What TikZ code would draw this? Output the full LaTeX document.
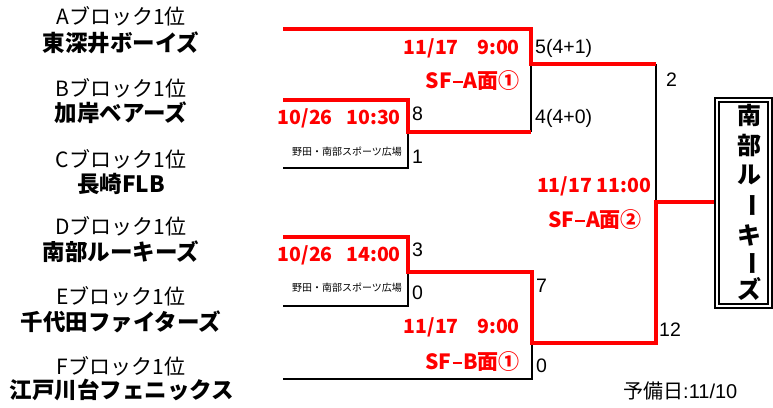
\documentclass[tikz,border=0pt]{standalone}
\usepackage{fontspec}
\setmainfont{Noto Sans CJK JP}
\newfontfamily\latinfont{Liberation Sans}
\newcommand{\sfdash}{\hspace{0.06em}\rule[0.28em]{0.45em}{0.12em}\hspace{0.06em}}
\begin{document}
\begin{tikzpicture}[x=1pt,y=-1pt,
  blk/.style={inner sep=0pt,font=\fontsize{21}{21}\selectfont},
  team/.style={inner sep=0pt,font=\bfseries\fontsize{22.5}{22.5}\selectfont},
  redt/.style={inner sep=0pt,text=red,font=\bfseries\fontsize{19.5}{19.5}\selectfont},
  sft/.style={inner sep=0pt,text=red,font=\bfseries\fontsize{21}{21}\selectfont},
  score/.style={inner sep=0pt,anchor=west,font=\latinfont\fontsize{19.5}{19.5}\selectfont},
  venue/.style={inner sep=0pt,anchor=east,font=\fontsize{10}{10}\selectfont},
  champ/.style={inner sep=0pt,font=\bfseries\fontsize{24}{24}\selectfont},
  blackline/.style={draw=black,line width=2pt,line join=miter},
  redline/.style={draw=red,line width=3.8pt,line join=miter}]
\useasboundingbox (0,0) rectangle (773,407);

% team labels
\node[blk]  (la) at (121,16.5) {Aブロック1位};
\node[team] (na) at (121,43) {東深井ボーイズ};
\node[blk]  (lb) at (121,88) {Bブロック1位};
\node[team] (nb) at (121,113) {加岸ベアーズ};
\node[blk]  (lc) at (121,159) {Cブロック1位};
\node[team] (nc) at (121,184) {長崎FLB};
\node[blk]  (ld) at (121,226) {Dブロック1位};
\node[team] (nd) at (121,252) {南部ルーキーズ};
\node[blk]  (le) at (121,296) {Eブロック1位};
\node[team] (ne) at (121,322) {千代田ファイターズ};
\node[blk]  (lf) at (121,366) {Fブロック1位};
\node[team] (nf) at (122,390) {江戸川台フェニックス};

% bracket coordinates
\coordinate (A0) at (283,29);  \coordinate (A1) at (531,29);
\coordinate (W1) at (531,64);  \coordinate (W1r) at (656,64);
\coordinate (B0) at (283,100); \coordinate (B1) at (408,100);
\coordinate (BC) at (408,132); \coordinate (BCr) at (531,132);
\coordinate (C0) at (283,168); \coordinate (C1) at (408,168);
\coordinate (D0) at (283,237); \coordinate (D1) at (408,237);
\coordinate (DE) at (408,272); \coordinate (DEr) at (532,272);
\coordinate (E0) at (283,306); \coordinate (E1) at (408,306);
\coordinate (W2) at (532,343); \coordinate (W2r) at (656,343);
\coordinate (F0) at (283,379); \coordinate (F1) at (532,379);
\coordinate (FN) at (656,202); \coordinate (CH) at (715,202);

% black lines
\draw[blackline] (W1) -- (BCr);
\draw[blackline] (BC) -- (C1) -- (C0);
\draw[blackline] (DE) -- (E1) -- (E0);
\draw[blackline] (W2) -- (F1) -- (F0);
\draw[blackline] (W1r) -- (FN);
% red lines
\draw[redline] (A0) -- (A1) -- (W1) -- (W1r);
\draw[redline] (B0) -- (B1) -- (BC) -- (BCr);
\draw[redline] (D0) -- (D1) -- (DE) -- (DEr) -- (W2) -- (W2r) -- (FN) -- (CH);

% champion box
\draw[line width=1.2pt] (715,98) rectangle (772,308);
\draw[line width=1.2pt] (719,102) rectangle (768,304);
\node[champ] (c1) at (749,115) {南};
\node[champ] (c2) at (749,145) {部};
\node[champ] (c3) at (749,175) {ル};
\node[champ,rotate=-90] (c4) at (749,205) {ー};
\node[champ] (c5) at (749,235) {キ};
\node[champ,rotate=-90] (c6) at (749,263) {ー};
\node[champ] (c7) at (749,289) {ズ};

% match info
\node[redt,anchor=east] (t1) at (520,48) {11/17\hspace{0.95em}9:00};
\node[sft,anchor=east]  (sf1) at (520,81) {SF\sfdash A面①};
\node[redt,anchor=east] (t2) at (401,118) {10/26\hspace{0.7em}10:30};
\node[venue] (v1) at (402,152) {野田・南部スポーツ広場};
\node[redt] (t3) at (594,186) {11/17 11:00};
\node[sft]  (sf2) at (595,220) {SF\sfdash A面②};
\node[redt,anchor=east] (t4) at (401,255) {10/26\hspace{0.7em}14:00};
\node[venue] (v2) at (402,288) {野田・南部スポーツ広場};
\node[redt,anchor=east] (t5) at (520,327) {11/17\hspace{0.95em}9:00};
\node[sft,anchor=east]  (sf3) at (520,362) {SF\sfdash B面①};

% scores
\node[score] (s8) at (412,114) {8};
\node[score] (s1) at (412,157) {1};
\node[score] (s5) at (535,48) {5(4+1)};
\node[score] (s4) at (535,118) {4(4+0)};
\node[score] (s2) at (666,80) {2};
\node[score] (s7) at (536,286) {7};
\node[score] (s12) at (659,330) {12};
\node[score] (s3) at (412,250) {3};
\node[score] (s0a) at (412,293) {0};
\node[score] (s0b) at (536,366) {0};

\node[inner sep=0pt,anchor=west,font=\fontsize{20}{20}\selectfont] (yobi) at (623,391) {予備日{\latinfont :11/10}};
\end{tikzpicture}
\end{document}
